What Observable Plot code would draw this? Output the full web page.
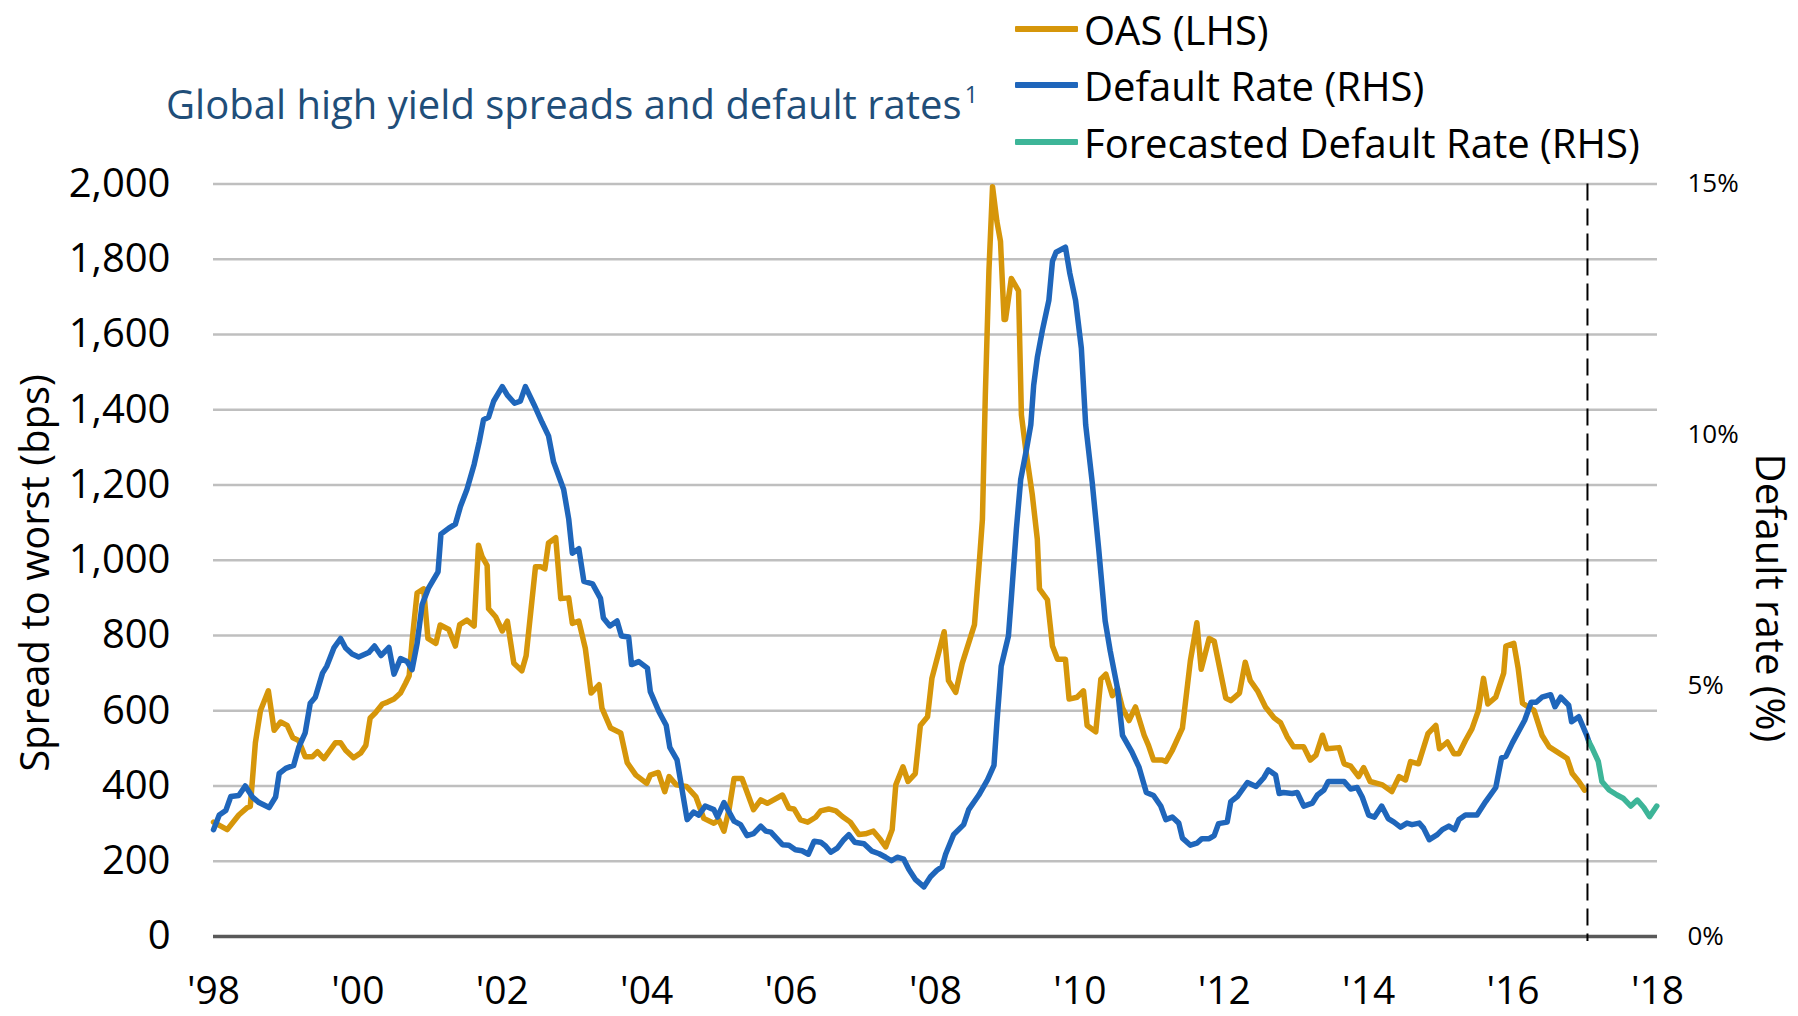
<!DOCTYPE html>
<html>
<head>
<meta charset="utf-8">
<script src="https://cdn.jsdelivr.net/npm/d3@7"></script>
<script src="https://cdn.jsdelivr.net/npm/@observablehq/plot@0.6"></script>
<style>
  html, body { margin: 0; padding: 0; background: #fff; }
  #wrap { position: relative; width: 1798px; height: 1016px; overflow: hidden; font-family: "Open Sans", "Noto Sans", sans-serif; }
  #chart { position: absolute; left: 0; top: 0; }
  #title { position: absolute; left: 166px; top: 84px; font-size: 40px; color: #1f4e79; white-space: nowrap; line-height: 1; }
  #title sup { font-size: 23px; vertical-align: 16px; line-height: 0; margin-left: 3px; }
  .leg { position: absolute; left: 1015px; height: 50px; display: flex; align-items: center; white-space: nowrap; font-size: 40px; color: #000; }
  .leg .sw { display: inline-block; width: 63px; height: 6px; margin-right: 6px; border-radius: 1px; }
  .atitle { position: absolute; white-space: nowrap; color: #000; line-height: 1; }
</style>
</head>
<body>
<div id="wrap">
  <div id="chart"></div>
  <div id="title">Global high yield spreads and default rates<sup>1</sup></div>
  <div id="legend"></div>
  <div class="atitle" id="ytitleL" style="left:34px; top:573px; font-size:40px; transform: translate(-50%,-50%) rotate(-90deg);">Spread to worst (bps)</div>
  <div class="atitle" id="ytitleR" style="left:1771px; top:598px; font-size:40px; transform: translate(-50%,-50%) rotate(90deg);">Default rate (%)</div>
</div>
<script>
// ---- Data ----
// OAS, left-hand scale, basis points
const oasDates = [
  1998.00,1998.19,1998.35,1998.47,1998.51,1998.58,1998.65,1998.76,1998.84,1998.93,
  1999.02,1999.10,1999.18,1999.27,1999.37,1999.44,1999.53,1999.69,1999.76,1999.83,1999.94,
  2000.04,2000.11,2000.17,2000.24,2000.34,2000.41,2000.50,2000.59,2000.66,2000.71,2000.75,2000.82,2000.91,2000.97,
  2001.08,2001.14,2001.26,2001.35,2001.41,2001.51,2001.61,2001.67,2001.72,2001.79,2001.81,2001.91,
  2002.00,2002.07,2002.16,2002.27,2002.33,2002.46,2002.53,2002.59,2002.64,2002.74,2002.81,2002.92,2002.97,
  2003.06,2003.15,2003.23,2003.34,2003.38,2003.50,2003.64,2003.73,2003.85,
  2004.00,2004.05,2004.16,2004.25,2004.31,2004.41,2004.55,2004.68,2004.79,2004.93,
  2005.00,2005.07,2005.14,2005.21,2005.32,2005.48,2005.58,2005.67,2005.88,2005.97,
  2006.04,2006.13,2006.23,2006.34,2006.41,2006.52,2006.62,2006.71,2006.82,2006.94,
  2007.03,2007.14,2007.24,2007.31,2007.40,2007.45,2007.55,2007.62,2007.72,2007.79,2007.89,2007.95,
  2008.05,2008.12,2008.18,2008.28,2008.37,2008.54,2008.60,2008.65,2008.69,2008.74,2008.79,2008.85,2008.90,2008.95,2008.97,
  2009.05,2009.15,2009.19,2009.25,2009.34,2009.41,2009.44,2009.55,2009.62,2009.69,2009.80,2009.85,2009.96,
  2010.05,2010.10,2010.22,2010.29,2010.36,2010.45,2010.52,2010.59,2010.68,2010.77,2010.89,2010.95,
  2011.02,2011.14,2011.19,2011.28,2011.42,2011.53,2011.62,2011.68,2011.79,2011.86,
  2012.02,2012.09,2012.21,2012.29,2012.36,2012.46,2012.57,2012.69,2012.78,2012.87,2012.96,
  2013.10,2013.19,2013.27,2013.36,2013.42,2013.59,2013.66,2013.75,2013.86,2013.93,
  2014.02,2014.19,2014.32,2014.42,2014.51,2014.58,2014.69,2014.82,2014.93,2014.98,
  2015.09,2015.18,2015.25,2015.34,2015.43,2015.52,2015.59,2015.65,2015.76,2015.87,2015.90,
  2016.01,2016.07,2016.13,2016.29,2016.40,2016.50,2016.63,2016.75,2016.82,2016.91,2016.99
];
const oasValues = [
  304,284,323,343,346,515,600,653,548,570,
  561,528,521,478,478,491,473,515,515,495,475,
  488,508,581,594,618,623,631,647,673,693,785,913,924,792,
  779,828,816,772,829,841,825,1040,1010,986,871,849,
  812,838,726,706,746,983,983,977,1046,1060,898,900,832,
  838,766,647,669,607,554,541,462,429,
  407,429,436,385,425,403,399,372,314,301,
  310,280,337,420,420,337,363,354,376,341,
  339,310,304,317,334,339,334,319,304,271,
  273,280,257,238,284,403,451,412,433,561,584,686,
  759,810,680,649,726,829,977,1109,1439,1769,1993,1901,1848,1640,1640,
  1749,1716,1386,1294,1175,1056,924,895,772,737,737,631,636,
  653,561,544,684,697,640,660,607,574,610,535,508,
  469,469,465,495,554,733,834,710,792,785,
  634,627,647,729,680,653,610,581,568,531,504,
  504,469,482,535,499,502,459,453,425,449,
  412,403,385,425,416,465,459,539,561,499,
  517,486,486,521,552,601,686,618,636,700,772,
  779,713,620,601,535,504,488,473,433,412,389
];

// Default rate, right-hand scale, percent
const defaultDates = [
  1998.00,1998.08,1998.17,1998.24,1998.35,1998.44,1998.54,1998.63,1998.77,1998.86,1998.91,
  1999.00,1999.11,1999.18,1999.27,1999.34,1999.41,1999.51,1999.57,1999.67,1999.76,1999.83,1999.92,
  2000.01,2000.15,2000.23,2000.32,2000.43,2000.50,2000.59,2000.68,2000.75,2000.82,2000.89,2000.98,
  2001.11,2001.15,2001.26,2001.35,2001.42,2001.51,2001.61,2001.68,2001.74,2001.81,2001.88,
  2002.00,2002.07,2002.17,2002.25,2002.32,2002.44,2002.55,2002.64,2002.71,2002.85,2002.92,2002.97,
  2003.06,2003.13,2003.25,2003.36,2003.40,2003.49,2003.59,2003.65,2003.75,2003.79,2003.89,
  2004.01,2004.05,2004.17,2004.27,2004.32,2004.42,2004.56,2004.65,2004.72,2004.81,2004.93,2004.98,
  2005.07,2005.21,2005.30,2005.39,2005.48,2005.58,2005.65,2005.72,2005.88,2005.97,
  2006.06,2006.15,2006.24,2006.32,2006.41,2006.48,2006.55,2006.64,2006.73,2006.80,2006.88,
  2007.01,2007.12,2007.22,2007.31,2007.39,2007.47,2007.56,2007.63,2007.72,2007.84,2007.93,
  2008.02,2008.09,2008.14,2008.25,2008.39,2008.46,2008.60,2008.72,2008.81,2008.85,2008.91,
  2009.01,2009.05,2009.12,2009.18,2009.26,2009.32,2009.36,2009.41,2009.48,2009.57,2009.62,2009.67,2009.80,2009.86,2009.94,
  2010.02,2010.08,2010.17,2010.26,2010.35,2010.42,2010.52,2010.59,2010.72,2010.82,2010.92,
  2011.02,2011.12,2011.19,2011.28,2011.37,2011.42,2011.53,2011.62,2011.69,2011.79,2011.86,2011.92,
  2012.04,2012.09,2012.18,2012.32,2012.44,2012.55,2012.61,2012.71,2012.76,2012.82,2012.94,
  2013.01,2013.10,2013.22,2013.29,2013.38,2013.44,2013.66,2013.75,2013.84,2013.91,
  2014.00,2014.08,2014.18,2014.27,2014.35,2014.44,2014.53,2014.60,2014.70,2014.76,2014.84,2014.95,
  2015.02,2015.11,2015.19,2015.25,2015.34,2015.50,2015.62,2015.76,2015.84,2015.90,2015.99,
  2016.16,2016.25,2016.32,2016.40,2016.52,2016.58,2016.66,2016.77,2016.81,2016.91,
  2017.02,2017.05
];
const defaultRates = [
  2.13,2.42,2.51,2.79,2.81,3.00,2.78,2.67,2.57,2.78,3.25,
  3.35,3.41,3.77,4.06,4.65,4.77,5.25,5.39,5.76,5.94,5.75,5.63,
  5.57,5.66,5.79,5.60,5.76,5.23,5.54,5.48,5.32,5.84,6.62,6.95,
  7.27,8.02,8.14,8.22,8.57,8.91,9.41,9.86,10.30,10.35,10.67,
  10.96,10.79,10.63,10.67,10.96,10.60,10.25,9.98,9.46,8.91,8.32,7.64,
  7.73,7.08,7.03,6.74,6.35,6.19,6.29,5.99,5.97,5.42,5.48,
  5.35,4.88,4.48,4.21,3.77,3.52,2.33,2.48,2.42,2.60,2.53,2.38,
  2.67,2.30,2.23,2.01,2.05,2.20,2.10,2.08,1.83,1.82,
  1.73,1.71,1.64,1.90,1.88,1.80,1.68,1.76,1.93,2.03,1.88,
  1.85,1.70,1.65,1.58,1.51,1.58,1.54,1.34,1.14,0.99,1.19,
  1.32,1.39,1.64,2.03,2.23,2.53,2.82,3.12,3.41,4.26,5.39,
  5.99,6.74,8.12,9.11,9.71,10.20,10.99,11.54,12.08,12.68,13.46,13.64,13.74,13.22,12.68,
  11.73,10.20,9.06,7.73,6.29,5.69,4.95,4.01,3.68,3.37,2.87,
  2.81,2.60,2.33,2.38,2.26,1.96,1.82,1.86,1.95,1.95,2.01,2.25,
  2.28,2.69,2.79,3.07,2.99,3.17,3.32,3.22,2.85,2.87,2.85,
  2.87,2.60,2.66,2.82,2.92,3.09,3.09,2.94,2.97,2.78,
  2.42,2.38,2.60,2.35,2.28,2.18,2.26,2.23,2.26,2.16,1.93,2.03,
  2.13,2.20,2.13,2.33,2.42,2.42,2.69,2.97,3.56,3.59,3.86,
  4.31,4.67,4.67,4.77,4.82,4.58,4.77,4.61,4.28,4.38,
  4.01,3.88
];

// Forecasted default rate, right-hand scale, percent
const forecastDates = [2017.05,2017.10,2017.18,2017.23,2017.33,2017.44,2017.53,2017.63,2017.72,2017.81,2017.89,2017.99];
const forecastRates = [3.88,3.74,3.49,3.09,2.92,2.82,2.75,2.60,2.72,2.57,2.39,2.60];

const forecastStart = 2017.03;

const xTicks = [1998,2000,2002,2004,2006,2008,2010,2012,2014,2016,2018];
const yTicks = [0,200,400,600,800,1000,1200,1400,1600,1800,2000];
const rhsTicks = [0,5,10,15];

const seriesNames = ["OAS (LHS)", "Default Rate (RHS)", "Forecasted Default Rate (RHS)"];
const seriesColors = ["#d6960a", "#1f66bb", "#3db598"];

// ---- Build tables ----
const oas = oasDates.map((d, i) => ({date: d, value: oasValues[i]}));
const defaults = defaultDates.map((d, i) => ({date: d, rate: defaultRates[i]}));
const forecast = forecastDates.map((d, i) => ({date: d, rate: forecastRates[i]}));

const LHS_MAX = 2000, RHS_MAX = 15;
const toLeft = r => r * LHS_MAX / RHS_MAX;

const chart = Plot.plot({
  width: 1798,
  height: 1016,
  marginTop: 183.5,
  marginBottom: 80,
  marginLeft: 213,
  marginRight: 141,
  style: {fontFamily: "'Open Sans', 'Noto Sans', sans-serif", background: "transparent", color: "#000"},
  x: {type: "linear", domain: [1998, 2018]},
  y: {domain: [0, LHS_MAX]},
  marks: [
    Plot.ruleY(yTicks.filter(d => d > 0), {stroke: "#bfbfbf", strokeWidth: 2.5}),
    Plot.ruleY([0], {stroke: "#595959", strokeWidth: 3.5}),
    Plot.line(oas, {x: "date", y: "value", stroke: seriesColors[0], strokeWidth: 5.5, strokeLinejoin: "round", strokeLinecap: "round"}),
    Plot.line(defaults, {x: "date", y: d => toLeft(d.rate), stroke: seriesColors[1], strokeWidth: 5.5, strokeLinejoin: "round", strokeLinecap: "round"}),
    Plot.line(forecast, {x: "date", y: d => toLeft(d.rate), stroke: seriesColors[2], strokeWidth: 5.5, strokeLinejoin: "round", strokeLinecap: "round"}),
    Plot.ruleX([forecastStart], {stroke: "#000", strokeWidth: 2, strokeDasharray: "17,8", insetBottom: -5}),
    Plot.axisX(xTicks, {tickFormat: d => "'" + String(d % 100).padStart(2, "0"), tickSize: 0, tickPadding: 40, fontSize: 39, label: null}),
    Plot.axisY(yTicks, {anchor: "left", tickFormat: d3.format(","), tickSize: 0, tickPadding: 43, fontSize: 40, label: null}),
    Plot.axisY(rhsTicks.map(toLeft), {anchor: "right", tickFormat: d => Math.round(d * RHS_MAX / LHS_MAX) + "%", tickSize: 0, tickPadding: 30, fontSize: 26, label: null})
  ]
});
document.getElementById("chart").appendChild(chart);

// ---- Legend ----
const legend = document.getElementById("legend");
const legendTops = [4, 60, 117];
seriesNames.forEach((name, i) => {
  const row = document.createElement("div");
  row.className = "leg";
  row.style.top = legendTops[i] + "px";
  const sw = document.createElement("span");
  sw.className = "sw";
  sw.style.background = seriesColors[i];
  row.appendChild(sw);
  row.appendChild(document.createTextNode(name));
  legend.appendChild(row);
});
</script>
</body>
</html>
